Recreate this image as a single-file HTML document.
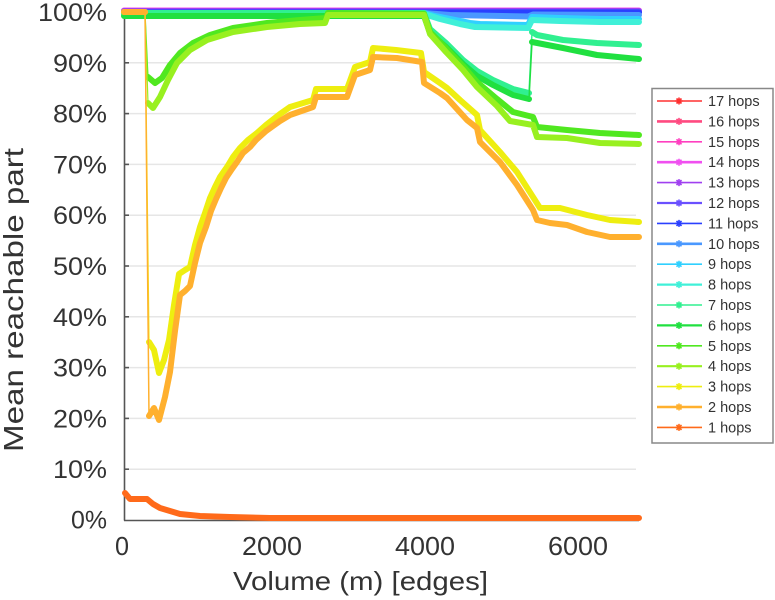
<!DOCTYPE html>
<html><head><meta charset="utf-8"><style>
html,body{margin:0;padding:0;background:#fff;}
svg{display:block;}
text{font-family:"Liberation Sans",Arial,sans-serif;fill:#333;}
</style></head><body>
<svg width="775" height="600" viewBox="0 0 775 600" xmlns="http://www.w3.org/2000/svg">
<rect x="0" y="0" width="775" height="600" fill="#fff"/>
<!-- grid -->
<g stroke="#e6e6e6" stroke-width="1.5">
<line x1="125" y1="62.8" x2="636" y2="62.8"/>
<line x1="125" y1="113.6" x2="636" y2="113.6"/>
<line x1="125" y1="164.4" x2="636" y2="164.4"/>
<line x1="125" y1="215.2" x2="636" y2="215.2"/>
<line x1="125" y1="266" x2="636" y2="266"/>
<line x1="125" y1="316.8" x2="636" y2="316.8"/>
<line x1="125" y1="367.6" x2="636" y2="367.6"/>
<line x1="125" y1="418.4" x2="636" y2="418.4"/>
<line x1="125" y1="469.2" x2="636" y2="469.2"/>
</g>
<!-- axes -->
<g stroke="#555" stroke-width="1.6" fill="none">
<line x1="124.5" y1="11" x2="124.5" y2="520.5"/>
<line x1="124" y1="520.5" x2="639" y2="520.5"/>
<line x1="124" y1="62.8" x2="129" y2="62.8"/>
<line x1="124" y1="113.6" x2="129" y2="113.6"/>
<line x1="124" y1="164.4" x2="129" y2="164.4"/>
<line x1="124" y1="215.2" x2="129" y2="215.2"/>
<line x1="124" y1="266" x2="129" y2="266"/>
<line x1="124" y1="316.8" x2="129" y2="316.8"/>
<line x1="124" y1="367.6" x2="129" y2="367.6"/>
<line x1="124" y1="418.4" x2="129" y2="418.4"/>
<line x1="124" y1="469.2" x2="129" y2="469.2"/>
<line x1="276.6" y1="520" x2="276.6" y2="515"/>
<line x1="429" y1="520" x2="429" y2="515"/>
<line x1="581.8" y1="520" x2="581.8" y2="515"/>
</g>

<!-- series, drawn 17 -> 1 -->
<g fill="none" stroke-linejoin="round" stroke-linecap="round" stroke-width="6">
<polyline stroke="#ff3030" points="124,11 639,11"/>
<polyline stroke="#ff4a80" points="124,11 639,11"/>
<polyline stroke="#ff40c0" points="124,11 639,11"/>
<polyline stroke="#f050f0" points="124,10.5 639,10.5"/>
<polyline stroke="#a040f0" points="124,11 639,11"/>
<polyline stroke="#6a50ff" points="124,12 639,12"/>
<polyline stroke="#2a40ff" points="124,12.5 639,12.5"/>
<polyline stroke="#4a98ff" points="124,13 424,13 450,15 528,16.5 533,14.5 639,15"/>
<polyline stroke="#30d0ff" points="124,13 424,13 435,16 450,19 470,23 480,24 528,25 532,17 560,18 600,19 639,19"/>
<polyline stroke="#40f0d8" points="124,14 424,14 440,19 460,24 475,27 528,28 532,20 560,21 600,22 639,22"/>
<!-- 7 hops -->
<polyline stroke="#30f090" points="124,13 424,13 430,29 446,43 463,60 477,71 493,80 513,89 529,93"/>
<polyline stroke="#30f090" stroke-width="6" points="532,32 537,35 563,40 597,43 639,45"/>
<line stroke="#30f090" stroke-width="1.5" x1="529" y1="93" x2="532" y2="32"/>
<!-- 6 hops -->
<polyline stroke="#20e040" points="124,16 424,16 430,33 446,47 463,64 477,76 493,85 513,95 529,99"/>
<polyline stroke="#20e040" points="532,42 563,48 597,55 639,59"/>
<line stroke="#20e040" stroke-width="1.5" x1="529" y1="99" x2="532" y2="42"/>
<!-- 5 hops -->
<polyline stroke="#50e820" points="124,12 145,12"/>
<line stroke="#50e820" stroke-width="1.2" x1="145" y1="12" x2="148" y2="77"/>
<polyline stroke="#50e820" points="148,77 155,83 162,78 170,65 180,53 193,43 210,35 233,28 267,23 300,20 326,18 328,13 424,14 430,32 446,48 463,66 477,82 497,99 513,112 533,117 537,127 567,130 600,133 639,135"/>
<!-- 4 hops -->
<polyline stroke="#98f020" points="124,12 145,12"/>
<line stroke="#98f020" stroke-width="1.2" x1="145" y1="12" x2="148" y2="103"/>
<polyline stroke="#98f020" points="148,103 153,108 160,97 168,80 177,63 190,50 207,40 233,32 267,27 300,24 325,23 328,15 424,15 430,34 446,52 463,70 477,87 497,106 510,121 533,125 537,137 567,138 600,143 639,144"/>
<!-- 3 hops -->
<polyline stroke="#eeee10" points="124,12 145,12"/>
<line stroke="#eeee10" stroke-width="1.3" x1="145" y1="12" x2="149" y2="342"/>
<polyline stroke="#eeee10" points="149,342 154,350 159,373 164,360 169,340 174,305 179,274 185,270 190,267 195,245 200,227 205,213 210,198 215,187 220,177 227,167 233,157 240,148 248,140 257,133 266,125 280,114 290,107 313,100 316,89 347,89 355,67 370,62 373,48 396,50 421,53 424,72 440,83 447,88 460,100 477,115 480,130 500,152 517,172 533,197 540,208 560,208 587,215 610,220 639,222"/>
<!-- 2 hops -->
<polyline stroke="#ffb02e" points="124,12 145,12"/>
<line stroke="#ffb02e" stroke-width="1.5" x1="145" y1="12" x2="149" y2="416"/>
<polyline stroke="#ffb02e" points="149,416 154,408 159,420 165,397 170,372 175,331 180,295 185,291 190,286 195,263 200,243 206,227 211,211 216,199 221,188 226,178 232,169 237,162 243,153 250,147 256,140 266,131 280,121 290,115 313,107 316,97 347,97 355,75 370,70 373,57 397,58 422,62 424,83 440,93 447,98 467,120 477,128 480,142 500,162 517,185 533,210 537,220 550,223 567,225 587,232 610,237 639,237"/>
<!-- 1 hops -->
<polyline stroke="#ff6a1a" points="125,493 130,499 140,499 147,499 153,504 160,508 170,511 180,514 200,516 230,517 270,518 639,518"/>
</g>

<!-- tick labels -->
<g font-size="25" text-anchor="end">
<text x="107" y="21" textLength="69" lengthAdjust="spacingAndGlyphs">100%</text>
<text x="107" y="71.8" textLength="54" lengthAdjust="spacingAndGlyphs">90%</text>
<text x="107" y="122.6" textLength="54" lengthAdjust="spacingAndGlyphs">80%</text>
<text x="107" y="173.4" textLength="54" lengthAdjust="spacingAndGlyphs">70%</text>
<text x="107" y="224.2" textLength="54" lengthAdjust="spacingAndGlyphs">60%</text>
<text x="107" y="275" textLength="54" lengthAdjust="spacingAndGlyphs">50%</text>
<text x="107" y="325.8" textLength="54" lengthAdjust="spacingAndGlyphs">40%</text>
<text x="107" y="376.6" textLength="54" lengthAdjust="spacingAndGlyphs">30%</text>
<text x="107" y="427.4" textLength="54" lengthAdjust="spacingAndGlyphs">20%</text>
<text x="107" y="478.2" textLength="54" lengthAdjust="spacingAndGlyphs">10%</text>
<text x="107" y="528.5" textLength="36" lengthAdjust="spacingAndGlyphs">0%</text>
</g>
<g font-size="25.5" text-anchor="middle">
<text x="122" y="555" textLength="14" lengthAdjust="spacingAndGlyphs">0</text>
<text x="272" y="555" textLength="60" lengthAdjust="spacingAndGlyphs">2000</text>
<text x="425" y="555" textLength="60" lengthAdjust="spacingAndGlyphs">4000</text>
<text x="578" y="555" textLength="60" lengthAdjust="spacingAndGlyphs">6000</text>
</g>
<text x="360.5" y="590" font-size="26" text-anchor="middle" textLength="255" lengthAdjust="spacingAndGlyphs">Volume (m) [edges]</text>
<text transform="translate(23,300) rotate(-90)" font-size="28" text-anchor="middle" textLength="304" lengthAdjust="spacingAndGlyphs">Mean reachable part</text>

<!-- legend -->
<rect x="652" y="88.5" width="121" height="354.5" fill="#fff" stroke="#888" stroke-width="1.5"/>
<g fill="none" stroke-width="1.6">
<g stroke="#ff3030"><line x1="657" y1="101" x2="702" y2="101"/><path d="M675.5,101H682.5M679,97.5V104.5M676.5,98.5L681.5,103.5M676.5,103.5L681.5,98.5"/></g>
<g stroke="#ff4a80"><line x1="657" y1="121.4" x2="702" y2="121.4" stroke-width="2.6"/><path d="M675.5,121.4H682.5M679,117.9V124.9M676.5,118.9L681.5,123.9M676.5,123.9L681.5,118.9"/></g>
<g stroke="#ff40c0"><line x1="657" y1="141.8" x2="702" y2="141.8"/><path d="M675.5,141.8H682.5M679,138.3V145.3M676.5,139.3L681.5,144.3M676.5,144.3L681.5,139.3"/></g>
<g stroke="#f050f0"><line x1="657" y1="162.2" x2="702" y2="162.2" stroke-width="2.6"/><path d="M675.5,162.2H682.5M679,158.7V165.7M676.5,159.7L681.5,164.7M676.5,164.7L681.5,159.7"/></g>
<g stroke="#a040f0"><line x1="657" y1="182.6" x2="702" y2="182.6"/><path d="M675.5,182.6H682.5M679,179.1V186.1M676.5,180.1L681.5,185.1M676.5,185.1L681.5,180.1"/></g>
<g stroke="#6a50ff"><line x1="657" y1="203" x2="702" y2="203" stroke-width="2.2"/><path d="M675.5,203H682.5M679,199.5V206.5M676.5,200.5L681.5,205.5M676.5,205.5L681.5,200.5"/></g>
<g stroke="#2a40ff"><line x1="657" y1="223.4" x2="702" y2="223.4"/><path d="M675.5,223.4H682.5M679,219.9V226.9M676.5,220.9L681.5,225.9M676.5,225.9L681.5,220.9"/></g>
<g stroke="#4a98ff"><line x1="657" y1="243.8" x2="702" y2="243.8" stroke-width="2.6"/><path d="M675.5,243.8H682.5M679,240.3V247.3M676.5,241.3L681.5,246.3M676.5,246.3L681.5,241.3"/></g>
<g stroke="#30d0ff"><line x1="657" y1="264.2" x2="702" y2="264.2"/><path d="M675.5,264.2H682.5M679,260.7V267.7M676.5,261.7L681.5,266.7M676.5,266.7L681.5,261.7"/></g>
<g stroke="#40f0d8"><line x1="657" y1="284.6" x2="702" y2="284.6" stroke-width="2.2"/><path d="M675.5,284.6H682.5M679,281.1V288.1M676.5,282.1L681.5,287.1M676.5,287.1L681.5,282.1"/></g>
<g stroke="#30f090"><line x1="657" y1="305" x2="702" y2="305"/><path d="M675.5,305H682.5M679,301.5V308.5M676.5,302.5L681.5,307.5M676.5,307.5L681.5,302.5"/></g>
<g stroke="#20e040"><line x1="657" y1="325.4" x2="702" y2="325.4" stroke-width="2.2"/><path d="M675.5,325.4H682.5M679,321.9V328.9M676.5,322.9L681.5,327.9M676.5,327.9L681.5,322.9"/></g>
<g stroke="#50e820"><line x1="657" y1="345.8" x2="702" y2="345.8"/><path d="M675.5,345.8H682.5M679,342.3V349.3M676.5,343.3L681.5,348.3M676.5,348.3L681.5,343.3"/></g>
<g stroke="#98f020"><line x1="657" y1="366.2" x2="702" y2="366.2" stroke-width="2.2"/><path d="M675.5,366.2H682.5M679,362.7V369.7M676.5,363.7L681.5,368.7M676.5,368.7L681.5,363.7"/></g>
<g stroke="#eeee10"><line x1="657" y1="386.6" x2="702" y2="386.6"/><path d="M675.5,386.6H682.5M679,383.1V390.1M676.5,384.1L681.5,389.1M676.5,389.1L681.5,384.1"/></g>
<g stroke="#ffb02e"><line x1="657" y1="407" x2="702" y2="407" stroke-width="2.6"/><path d="M675.5,407H682.5M679,403.5V410.5M676.5,404.5L681.5,409.5M676.5,409.5L681.5,404.5"/></g>
<g stroke="#ff6a1a"><line x1="657" y1="427.4" x2="702" y2="427.4"/><path d="M675.5,427.4H682.5M679,423.9V430.9M676.5,424.9L681.5,429.9M676.5,429.9L681.5,424.9"/></g>
</g>
<g font-size="14.5" fill="#222">
<text x="708" y="106">17 hops</text>
<text x="708" y="126.4">16 hops</text>
<text x="708" y="146.8">15 hops</text>
<text x="708" y="167.2">14 hops</text>
<text x="708" y="187.6">13 hops</text>
<text x="708" y="208">12 hops</text>
<text x="708" y="228.4">11 hops</text>
<text x="708" y="248.8">10 hops</text>
<text x="708" y="269.2">9 hops</text>
<text x="708" y="289.6">8 hops</text>
<text x="708" y="310">7 hops</text>
<text x="708" y="330.4">6 hops</text>
<text x="708" y="350.8">5 hops</text>
<text x="708" y="371.2">4 hops</text>
<text x="708" y="391.6">3 hops</text>
<text x="708" y="412">2 hops</text>
<text x="708" y="432.4">1 hops</text>
</g>
</svg>
</body></html>
